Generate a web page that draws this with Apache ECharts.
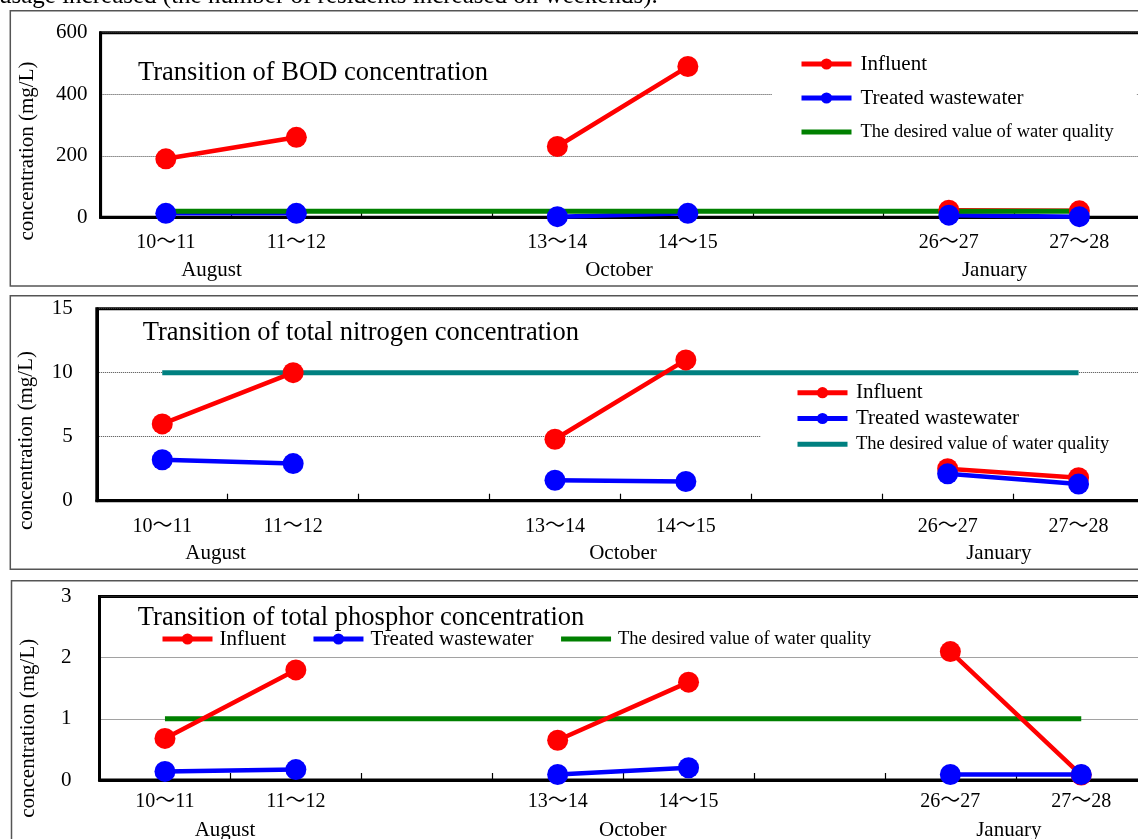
<!DOCTYPE html>
<html><head><meta charset="utf-8">
<script src="https://cdn.jsdelivr.net/npm/echarts@6/dist/echarts.min.js"></script>
<style>html,body{margin:0;padding:0;background:#fff;overflow:hidden;width:1138px;height:839px}#c{width:1200px;height:839px}</style>
</head><body><div id="c"></div>
<script>
// ---------- data ----------
const categories = ['10～11', '11～12', '', '13～14', '14～15', '', '26～27', '27～28'];
const monthLabels = ['August', 'October', 'January'];
const seriesNames = ['Influent', 'Treated wastewater', 'The desired value of water quality'];
const panelTitles = ['Transition of BOD concentration', 'Transition of total nitrogen concentration', 'Transition of total phosphor concentration'];
const yAxisName = 'concentration (mg/L)';
const topText = 'usage increased (the number of residents increased on weekends).';

const bodInfluent = [190, 260, null, 230, 490, null, 23, 21];
const bodTreated  = [13, 13, null, 2, 13, null, 7, 2];
const bodDesired  = [20, 20, 20, 20, 20, 20, 20, 20];

const tnInfluent = [6.0, 10.0, null, 4.8, 11.0, null, 2.5, 1.8];
const tnTreated  = [3.2, 2.9, null, 1.6, 1.5, null, 2.1, 1.3];
const tnDesired  = [10, 10, 10, 10, 10, 10, 10, 10];

const tpInfluent = [0.68, 1.8, null, 0.65, 1.6, null, 2.1, 0.08];
const tpTreated  = [0.14, 0.17, null, 0.09, 0.2, null, 0.09, 0.09];
const tpDesired  = [1, 1, 1, 1, 1, 1, 1, 1];

const bodAxis = [0, 600, 200];   // min, max, interval
const tnAxis  = [0, 15, 5];
const tpAxis  = [0, 3, 1];

// ---------- layout / style ----------
const FONT = "'Liberation Serif','Times New Roman','Noto Sans CJK JP',serif";
const RED = '#ff0000', BLUE = '#0000ff';

const panels = [
  {
    data: [bodInfluent, bodTreated, bodDesired], axis: bodAxis, desiredColor: '#008000',
    order: [0, 1, 2],
    box: {x: 10.3, y: 10.7, h: 275.3},
    grid: {left: 100.6, top: 32.7, width: 8 * 130.5, height: 184.6},
    yMargin: 13, xMargin: 15,
    title: [138, 73], yname: [27, 151],
    months: [[211.5, 270], [619, 270], [994.6, 270]],
    legend: {orient: 'vertical', left: 772, top: 43, padding: [10, 23, 10, 27], itemGap: 12, bg: '#fff', textPad: 4}
  },
  {
    data: [tnInfluent, tnTreated, tnDesired], axis: tnAxis, desiredColor: '#008080',
    order: [2, 0, 1],
    box: {x: 10.3, y: 295.7, h: 273.6},
    grid: {left: 96.8, top: 308.7, width: 8 * 130.9, height: 192},
    yMargin: 24, xMargin: 16,
    title: [142.7, 333], yname: [26.8, 440.5],
    months: [[215.6, 553], [623, 553], [998.8, 553]],
    legend: {orient: 'vertical', left: 761, top: 377, padding: [4.7, 60, 0, 34], itemGap: 3.8, bg: '#fff', textPad: 3.5}
  },
  {
    data: [tpInfluent, tpTreated, tpDesired], axis: tpAxis, desiredColor: '#008000',
    order: [2, 0, 1],
    box: {x: 11.5, y: 580.7, h: 300},
    grid: {left: 99.5, top: 596.5, width: 8 * 130.9, height: 183.5},
    yMargin: 28, xMargin: 11.7,
    title: [137.8, 618.3], yname: [28.7, 728.3],
    months: [[225, 830], [632.8, 830], [1008.8, 830]],
    legend: {orient: 'horizontal', left: 160, top: 628, padding: 0, itemGap: 25, bg: 'transparent', textPad: 2}
  }
];

const grids = [], xAxes = [], yAxes = [], series = [], legends = [], graphics = [];

graphics.push({type: 'rect', shape: {x: 0, y: 0, width: 1200, height: 839}, style: {fill: '#fff'}, z: -10, silent: true});
graphics.push({type: 'text', x: -1, y: 9, style: {text: topText, font: '25px ' + FONT, fill: '#000', textVerticalAlign: 'bottom'}});

panels.forEach((p, i) => {
  graphics.push({type: 'rect', shape: {x: p.box.x, y: p.box.y, width: 1200, height: p.box.h},
    style: {fill: 'none', stroke: '#555', lineWidth: 1.5}, silent: true});
  grids.push(Object.assign({show: true, borderColor: '#000', borderWidth: 3, backgroundColor: 'transparent'}, p.grid));
  xAxes.push({
    type: 'category', gridIndex: i, data: categories, boundaryGap: true,
    axisLine: {lineStyle: {color: '#000', width: 3}},
    axisTick: {show: true, inside: true, length: 7, lineStyle: {color: '#000', width: 1.2}},
    axisLabel: {color: '#000', fontSize: 20, fontFamily: FONT, margin: p.xMargin, interval: 0},
    splitLine: {show: false}
  });
  yAxes.push({
    type: 'value', gridIndex: i, min: p.axis[0], max: p.axis[1], interval: p.axis[2],
    axisLine: {show: true, lineStyle: {color: '#000', width: 3}},
    axisTick: {show: false},
    axisLabel: {color: '#000', fontSize: 21, fontFamily: FONT, margin: p.yMargin},
    splitLine: {show: true, lineStyle: {color: '#444', width: 1, type: [1, 1]}}
  });
  const colors = [RED, BLUE, p.desiredColor];
  const names = seriesNames.map(n => n + '#' + i);
  p.order.forEach(k => {
    const isDesired = k === 2;
    series.push({
      type: 'line', name: names[k], xAxisIndex: i, yAxisIndex: i, data: p.data[k],
      symbol: isDesired ? 'none' : 'circle', symbolSize: 21, showAllSymbol: true,
      connectNulls: false,
      lineStyle: {color: colors[k], width: isDesired ? 5 : 4.5},
      itemStyle: {color: colors[k]},
      emphasis: {disabled: true}
    });
  });
  legends.push({
    orient: p.legend.orient, left: p.legend.left, top: p.legend.top, padding: p.legend.padding,
    itemGap: p.legend.itemGap, itemWidth: 50, itemHeight: 14, backgroundColor: p.legend.bg,
    selectedMode: false,
    lineStyle: {width: 5},
    formatter: n => n.split('#')[0],
    textStyle: {color: '#000', fontFamily: FONT, fontSize: 21, lineHeight: 22, padding: [0, 0, 0, p.legend.textPad]},
    data: names.map((n, k) => k === 2
      ? {name: n, textStyle: {fontSize: 18.5}, itemStyle: {opacity: 0}}
      : {name: n})
  });
  graphics.push({type: 'text', x: p.title[0], y: p.title[1],
    style: {text: panelTitles[i], font: '26.5px ' + FONT, fill: '#000', textVerticalAlign: 'middle'}});
  graphics.push({type: 'text', x: p.yname[0], y: p.yname[1], rotation: Math.PI / 2,
    style: {text: yAxisName, font: '21px ' + FONT, fill: '#000', textAlign: 'center', textVerticalAlign: 'middle'}});
  p.months.forEach((m, j) => {
    graphics.push({type: 'text', x: m[0], y: m[1],
      style: {text: monthLabels[j], font: '21px ' + FONT, fill: '#000', textAlign: 'center', textVerticalAlign: 'middle'}});
  });
});

const chart = echarts.init(document.getElementById('c'));
chart.setOption({
  animation: false,
  backgroundColor: '#fff',
  grid: grids, xAxis: xAxes, yAxis: yAxes, series: series, legend: legends,
  graphic: graphics
});
</script>
</body></html>
